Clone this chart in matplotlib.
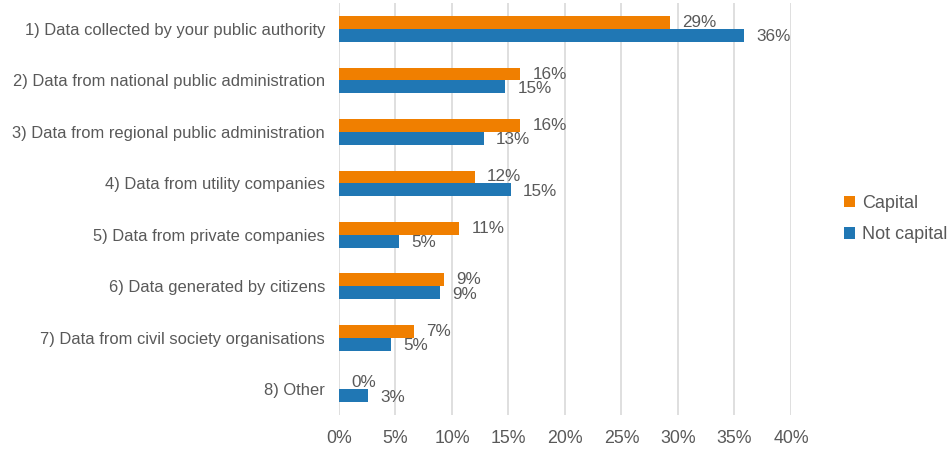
import matplotlib
matplotlib.use("Agg")
import matplotlib.pyplot as plt
import numpy as np

categories = [
    "1) Data collected by your public authority",
    "2) Data from national public administration",
    "3) Data from regional public administration",
    "4) Data from utility companies",
    "5) Data from private companies",
    "6) Data generated by citizens",
    "7) Data from civil society organisations",
    "8) Other",
]
capital = [29.3, 16.0, 16.0, 12.0, 10.6, 9.3, 6.6, 0.0]
not_capital = [35.8, 14.7, 12.8, 15.2, 5.3, 8.9, 4.6, 2.6]
xticks = [0, 5, 10, 15, 20, 25, 30, 35, 40]

plt.rcParams['font.family'] = ['Liberation Sans', 'DejaVu Sans']
txt = '#595959'
c_orange = '#F07F00'
c_blue = '#2077B4'

fig = plt.figure(figsize=(9.49, 4.5), dpi=100)
ax = fig.add_axes([0.3572, 0.0778, 0.4763, 0.915])

y = np.arange(len(categories))
h = 0.25
ax.barh(y - h / 2, capital, height=h, color=c_orange, label='Capital', zorder=3)
ax.barh(y + h / 2, not_capital, height=h, color=c_blue, label='Not capital', zorder=3)

for yi, v in zip(y, capital):
    ax.annotate(f"{round(v):.0f}%", (v, yi - h / 2), xytext=(9, 0), textcoords='offset points',
                va='center', ha='left', fontsize=12.3, color=txt)
for yi, v in zip(y, not_capital):
    ax.annotate(f"{round(v):.0f}%", (v, yi + h / 2), xytext=(9, -1), textcoords='offset points',
                va='center', ha='left', fontsize=12.3, color=txt)

ax.set_ylim(len(categories) - 0.5, -0.5)
ax.set_xlim(0, 40)
ax.set_yticks(y)
ax.set_yticklabels(categories, fontsize=11.9, color=txt)
ax.set_xticks(xticks)
ax.set_xticklabels([f"{t}%" for t in xticks], fontsize=12.8, color=txt)
ax.tick_params(axis='both', length=0)
ax.tick_params(axis='y', pad=10)
ax.tick_params(axis='x', pad=11)
ax.grid(axis='x', color='#D9D9D9', linewidth=1.2, zorder=0)
for s in ax.spines.values():
    s.set_visible(False)

leg = fig.legend(loc='center left', bbox_to_anchor=(0.872, 0.513), frameon=False,
                 fontsize=13, handlelength=0.6, handleheight=0.6, handletextpad=0.4,
                 labelspacing=0.8)
for t in leg.get_texts():
    t.set_color(txt)

fig.savefig('out.png', dpi=100)
